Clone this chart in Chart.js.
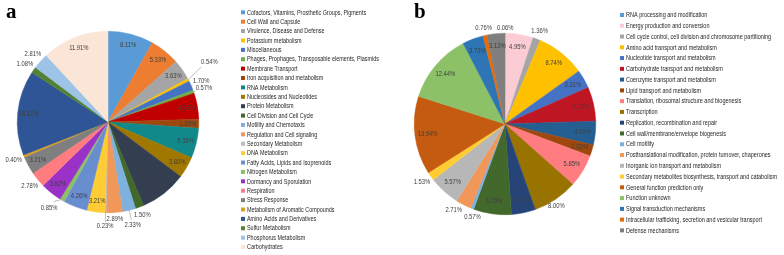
<!DOCTYPE html>
<html><head><meta charset="utf-8">
<script src="https://cdn.jsdelivr.net/npm/chart.js@4.4.0/dist/chart.umd.min.js"></script>
<style>
html,body{margin:0;padding:0;background:#fff;width:784px;height:255px;overflow:hidden}
.p{position:absolute;top:0;width:392px;height:255px}
#wa{left:0}#wb{left:392px}
</style></head><body>
<div class="p" id="wa"><canvas id="ca" width="392" height="255"></canvas></div>
<div class="p" id="wb"><canvas id="cb" width="392" height="255"></canvas></div>
<script>
// ---- Panel a (SEED subsystems) ----
const categoriesA = [
 "Cofactors, Vitamins, Prosthetic Groups, Pigments","Cell Wall and Capsule","Virulence, Disease and Defense",
 "Potassium metabolism","Miscellaneous","Phages, Prophages, Transposable elements, Plasmids","Membrane Transport",
 "Iron acquisition and metabolism","RNA Metabolism","Nucleosides and Nucleotides","Protein Metabolism",
 "Cell Division and Cell Cycle","Motility and Chemotaxis","Regulation and Cell signaling","Secondary Metabolism",
 "DNA Metabolism","Fatty Acids, Lipids and Isoprenoids","Nitrogen Metabolism","Dormancy and Sporulation",
 "Respiration","Stress Response","Metabolism of Aromatic Compounds","Amino Acids and Derivatives",
 "Sulfur Metabolism","Phosphorus Metabolism","Carbohydrates"];
const valuesA = [8.11,5.33,3.63,0.54,1.70,0.57,4.63,1.59,5.35,3.80,8.35,1.50,2.33,2.89,0.23,3.21,4.26,0.85,3.82,2.78,3.21,0.40,15.12,1.08,2.81,11.91];
const colorsA = ["#5B9BD5","#ED7D31","#A5A5A5","#FFC000","#4472C4","#70AD47","#C00000","#9E480E","#11898B","#A07800",
 "#333F50","#43682B","#7EB1DE","#F1975A","#BDBDBD","#FFCD33","#698ED0","#8CC168","#9A32C8","#FF7C80",
 "#7F7F7F","#D9A21E","#2F5597","#548235","#9DC3E6","#FBE5D6"];

// ---- Panel b (COG categories) ----
const categoriesB = [
 "RNA processing and modification","Energy production and conversion","Cell cycle control, cell division and chromosome partitioning",
 "Amino acid transport and metabolism","Nucleotide transport and metabolism","Carbohydrate transport and metabolism",
 "Coenzyme transport and metabolism","Lipid transport and metabolism","Translation, ribosomal structure and biogenesis",
 "Transcription","Replication, recombination and repair","Cell wall/membrane/envelope biogenesis","Cell motility",
 "Posttranslational modification, protein turnover, chaperones","Inorganic ion transport and metabolism",
 "Secondary metabolites biosynthesis, transport and catabolism","General function prediction only","Function unknown",
 "Signal transduction mechanisms","Intracellular trafficking, secretion and vesicular transport","Defense mechanisms"];
const valuesB = [0.06,4.95,1.36,8.74,3.31,6.10,4.19,2.02,5.85,8.00,4.29,6.75,0.57,2.71,5.57,1.53,13.94,12.44,3.73,0.76,3.13];
const colorsB = ["#5B9BD5","#FBCCD4","#A5A5A5","#FFC000","#4472C4","#BE1622","#255E91","#9E480E","#FF7C80","#997300",
 "#264478","#43682B","#7EB1DE","#F1975A","#B7B7B7","#FFCD33","#C55A11","#8CC168","#2E75B6","#E46C0A","#7F7F7F"];

const pieLabels = {
  id:'pieLabels',
  afterDatasetsDraw(chart, args, o){
    const ctx = chart.ctx, meta = chart.getDatasetMeta(0), vals = chart.data.datasets[0].data;
    ctx.save();
    ctx.font = o.font; ctx.fillStyle = o.color; ctx.textAlign='center'; ctx.textBaseline='middle';
    meta.data.forEach((arc,i)=>{
      const p = arc.getProps(['x','y','startAngle','endAngle','outerRadius'], true);
      const a0 = (p.startAngle+p.endAngle)/2, r = p.outerRadius;
      const a = a0 + (o.shift[i]||0)*Math.PI/180;
      const txt = vals[i].toFixed(2)+'%';
      const w = ctx.measureText(txt).width*o.squeeze, h = o.h;
      const out = o.outside.includes(i);
      let d;
      const half = Math.abs(Math.cos(a))*w/2 + Math.abs(Math.sin(a))*h/2;
      if(out) d = r + o.gap + half + (o.extra[i]||0); else d = r*o.inR;
      if(out && o.leaders.includes(i)){
        ctx.save(); ctx.strokeStyle='#A6A6A6'; ctx.lineWidth=0.7; ctx.beginPath();
        ctx.moveTo(p.x+Math.cos(a0)*(r-1), p.y+Math.sin(a0)*(r-1));
        ctx.lineTo(p.x+Math.cos(a)*(d-half-0.5), p.y+Math.sin(a)*(d-half-0.5));
        ctx.stroke(); ctx.restore();
      }
      ctx.fillText(txt, p.x+Math.cos(a)*d, p.y+Math.sin(a)*d, w);
    });
    ctx.restore();
  }
};
const sideLegend = {
  id:'sideLegend',
  afterDraw(chart, args, o){
    const ctx = chart.ctx, labels = chart.data.labels, cols = chart.data.datasets[0].backgroundColor;
    ctx.save();
    ctx.font = o.font; ctx.textBaseline='middle'; ctx.textAlign='left';
    const k = o.refWidth/ctx.measureText(labels[o.refIndex]).width;
    labels.forEach((t,i)=>{
      const y = o.y0 + i*o.dy;
      ctx.fillStyle = cols[i]; ctx.fillRect(o.bx, y-o.bs/2, o.bs, o.bs);
      ctx.fillStyle = o.color; ctx.fillText(t, o.tx, y, ctx.measureText(t).width*k);
    });
    ctx.font = o.letterFont; ctx.fillStyle='#000'; ctx.textBaseline='alphabetic';
    ctx.fillText(o.letter, o.lx, o.ly);
    ctx.restore();
  }
};

function make(id, labels, data, colors, pad, lab, leg){
  return new Chart(document.getElementById(id), {
    type:'pie',
    data:{labels, datasets:[{data, backgroundColor:colors, borderWidth:0.5, borderColor:colors}]},
    options:{responsive:false, animation:false, devicePixelRatio:1,
      layout:{padding:pad},
      plugins:{legend:{display:false}, tooltip:{enabled:false}, pieLabels:lab, sideLegend:leg}},
    plugins:[pieLabels, sideLegend]
  });
}
const labelFont = '7.3px "Liberation Sans", Arial, sans-serif';
const legendFont = '8px "Liberation Sans", Arial, sans-serif';
make('ca', categoriesA, valuesA, colorsA, {left:17, top:31, right:193, bottom:42},
  {font:labelFont, color:'#404040', squeeze:0.8, h:7, gap:2, inR:0.88,
   outside:[3,4,5,11,12,13,14,17,19,21,23,24], leaders:[3,4,5,12,14,17], extra:{3:16,12:8,14:8,17:4}, shift:{3:-3,17:4}},
  {font:legendFont, color:'#262626', refIndex:5, refWidth:132,
   bx:241, bs:4, tx:247, y0:12.3, dy:9.39, letter:'a', letterFont:'bold 21px "Liberation Serif", serif', lx:6, ly:18});
make('cb', categoriesB, valuesB, colorsB, {left:22, top:33, right:188, bottom:40},
  {font:labelFont, color:'#404040', squeeze:0.8, h:7, gap:2, inR:0.86,
   outside:[0,2,9,12,13,15,19], leaders:[], extra:{9:-3}, shift:{12:-2,13:3.7,9:2}},
  {font:legendFont, color:'#262626', refIndex:15, refWidth:151,
   bx:228, bs:4, tx:234, y0:15, dy:10.77, letter:'b', letterFont:'bold 21px "Liberation Serif", serif', lx:22, ly:18});
</script>
</body></html>
